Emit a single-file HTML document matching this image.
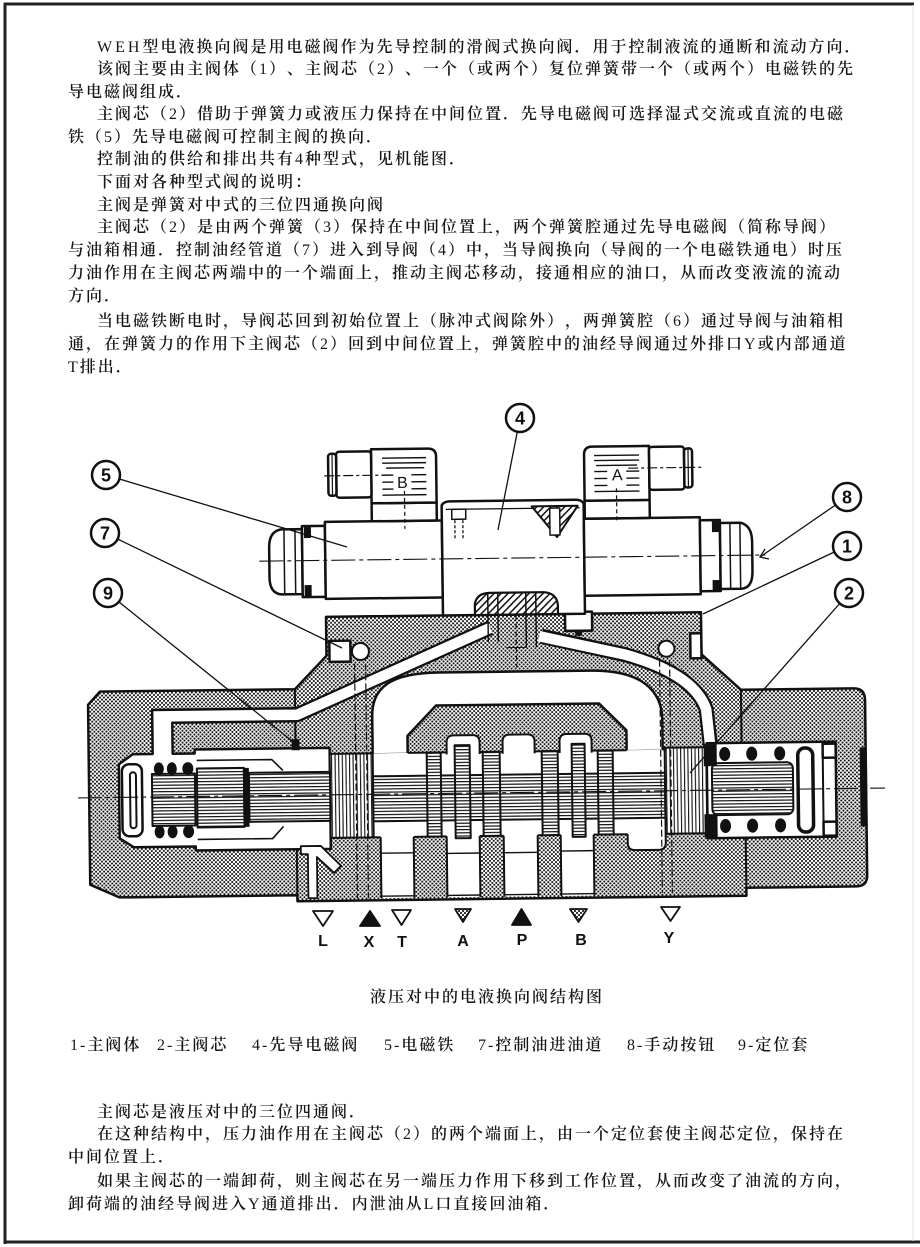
<!DOCTYPE html>
<html><head><meta charset="utf-8">
<style>
html,body{margin:0;padding:0;background:#fff}
body{width:920px;height:1247px;position:relative;overflow:hidden}
.t{position:absolute;font-family:"Liberation Serif","Noto Serif CJK SC",serif;font-size:16px;line-height:22px;letter-spacing:2px;color:#161616;white-space:nowrap;font-weight:600;text-spacing-trim:space-all}
.t b{font-weight:400}
svg{position:absolute;left:0;top:0}
</style></head><body>
<svg width="920" height="1247" viewBox="0 0 920 1247">
<defs>
 <pattern id="d" width="4" height="4" patternUnits="userSpaceOnUse">
  <rect width="4" height="4" fill="#fff"/>
  <circle cx="1" cy="1" r="1.05" fill="#111"/>
  <circle cx="3" cy="3" r="1.05" fill="#111"/>
 </pattern>
 <pattern id="hh" width="6" height="3.2" patternUnits="userSpaceOnUse">
  <rect width="6" height="3.2" fill="#fff"/>
  <rect y="0" width="6" height="1.2" fill="#111"/>
 </pattern>
 <pattern id="vh" width="3.6" height="6" patternUnits="userSpaceOnUse">
  <rect width="3.6" height="6" fill="#fff"/>
  <rect x="0" width="1.1" height="6" fill="#111"/>
 </pattern>
 <pattern id="dh" width="5" height="5" patternUnits="userSpaceOnUse" patternTransform="rotate(45)">
  <rect width="5" height="5" fill="#fff"/><rect width="1.5" height="5" fill="#111"/>
 </pattern>
</defs>

<!-- frame -->
<g fill="none" stroke="#222" stroke-width="3">
 <line x1="4" y1="4" x2="914" y2="4"/>
 <line x1="5" y1="3" x2="5" y2="1244"/>
 <line x1="4" y1="1242" x2="920" y2="1242"/>
</g>
<line x1="913" y1="5" x2="913" y2="1241" stroke="#e2e2e2" stroke-width="1"/>

<g transform="rotate(-0.7 480 780)" stroke="#111" stroke-linejoin="round">
 <!-- main body -->
 <path d="M101,687 L296,687 L328,654 L328,615 L703,615 L703,657 L742,693 L855,693 Q866,693 866,705 L866,880 Q866,891 855,891 L745,891 L745,899 L296,899 L296,893 L118,893 L89,880 L89,700 Z" fill="url(#d)" stroke-width="2.5"/>
 <line x1="296" y1="687" x2="296" y2="745" stroke-width="2"/>
 <line x1="296" y1="847" x2="296" y2="899" stroke-width="2"/>
 <line x1="742" y1="693" x2="742" y2="746" stroke-width="2"/>
 <line x1="745" y1="841" x2="745" y2="891" stroke-width="2"/>

 <!-- left cavity -->
 <path d="M153,706 L297,706 L297,719 L173,719 L173,750 L195,750 L195,746 L330,746 L330,847 L195,847 L195,843 L133,843 L119,834 L119,760 L133,750 L153,750 Z" fill="#fff" stroke-width="2.5"/>

 <!-- arch -->
 <path d="M373,753 L373,715 C373,686 392,672 440,672 L592,672 C642,672 663,692 663,722 L663,753 Z" fill="#fff" stroke-width="2.5"/>
 <!-- inner block -->
 <path d="M408,753 L408,735 L437,705 L600,705 L627,732 L627,753 Z" fill="url(#d)" stroke-width="2.5"/>

 <!-- channels -->
 <path d="M288,712.5 L298,712.5 L492,628" fill="none" stroke-width="15" stroke-linecap="butt"/>
 <path d="M286,712.5 L298,712.5 L492,628" fill="none" stroke="#fff" stroke-width="10.5" stroke-linecap="butt"/>
 <path d="M543,637 L625,656 Q695,676 707,712 L711,750" fill="none" stroke-width="15" stroke-linecap="butt"/>
 <path d="M541,637 L625,656 Q695,676 707,712 L711,752" fill="none" stroke="#fff" stroke-width="10.5" stroke-linecap="butt"/>

 <!-- bore -->
 <rect x="330" y="752" width="377" height="84" fill="#fff" stroke="none"/>
 <!-- top cavities -->
 <path d="M447,754 L447,742 Q447,735 454,735 L473,735 Q480,735 480,742 L480,754" fill="#fff" stroke-width="2"/>
 <path d="M503,754 L503,742 Q503,735 510,735 L528,735 Q535,735 535,742 L535,754" fill="#fff" stroke-width="2"/>
 <path d="M560,754 L560,742 Q560,735 567,735 L585,735 Q592,735 592,742 L592,754" fill="#fff" stroke-width="2"/>
 <!-- bottom chambers -->
 <rect x="380" y="834" width="33" height="63" fill="#fff" stroke="none"/>
 <rect x="446" y="834" width="33" height="63" fill="#fff" stroke="none"/>
 <rect x="503" y="834" width="34" height="63" fill="#fff" stroke="none"/>
 <rect x="560" y="834" width="33" height="63" fill="#fff" stroke="none"/>
 <path d="M627,834 L627,845 Q627,852 634,852 L658,852 Q665,852 665,845 L665,834 Z" fill="#fff" stroke="none"/>
 <path d="M627,836 L627,845 Q627,852 634,852 L658,852 Q665,852 665,845 L665,836" fill="none" stroke-width="2"/>
 <g stroke-width="2" fill="none">
  <line x1="408" y1="752" x2="447" y2="752"/>
  <line x1="480" y1="752" x2="503" y2="752"/>
  <line x1="535" y1="752" x2="560" y2="752"/>
  <line x1="592" y1="752" x2="627" y2="752"/>
  <line x1="663" y1="752" x2="707" y2="752"/>
  <line x1="330" y1="836" x2="380" y2="836"/>
  <line x1="413" y1="836" x2="446" y2="836"/>
  <line x1="479" y1="836" x2="503" y2="836"/>
  <line x1="537" y1="836" x2="560" y2="836"/>
  <line x1="593" y1="836" x2="627" y2="836"/>
  <line x1="665" y1="836" x2="707" y2="836"/>
  <line x1="380" y1="836" x2="380" y2="897"/>
  <line x1="413" y1="836" x2="413" y2="897"/>
  <line x1="446" y1="836" x2="446" y2="897"/>
  <line x1="479" y1="836" x2="479" y2="897"/>
  <line x1="503" y1="836" x2="503" y2="897"/>
  <line x1="537" y1="836" x2="537" y2="897"/>
  <line x1="560" y1="836" x2="560" y2="897"/>
  <line x1="593" y1="836" x2="593" y2="897"/>
 </g>
 <g stroke-width="1.4">
  <line x1="380" y1="852" x2="413" y2="852"/>
  <line x1="503" y1="853" x2="537" y2="853"/>
  <line x1="446" y1="853" x2="479" y2="853"/>
  <line x1="560" y1="852" x2="593" y2="852"/>
  <line x1="380" y1="895" x2="413" y2="895"/>
  <line x1="446" y1="895" x2="479" y2="895"/>
  <line x1="503" y1="895" x2="537" y2="895"/>
  <line x1="560" y1="895" x2="593" y2="895"/>
 </g>
 <!-- L channel detail -->
 <path d="M300,844 L320,844 L340,864 L333,871 L316,855 L316,896 L307,896 L307,852 L300,852 Z" fill="#fff" stroke-width="1.8"/>

 <!-- spool -->
 <rect x="330" y="752" width="43" height="84" fill="url(#vh)" stroke-width="2"/>
 <rect x="373" y="775" width="292" height="45" fill="url(#hh)" stroke-width="2"/>
 <rect x="427" y="752" width="14" height="84" fill="url(#hh)" stroke-width="2"/>
 <rect x="455" y="745" width="15" height="93" fill="url(#hh)" stroke-width="2"/>
 <rect x="483" y="752" width="17" height="84" fill="url(#hh)" stroke-width="2"/>
 <rect x="542" y="752" width="16" height="84" fill="url(#hh)" stroke-width="2"/>
 <rect x="572" y="745" width="13" height="93" fill="url(#hh)" stroke-width="2"/>
 <rect x="598" y="752" width="15" height="84" fill="url(#hh)" stroke-width="2"/>
 <rect x="665" y="750" width="42" height="86" fill="url(#vh)" stroke-width="2"/>

 <!-- left block internals -->
 <rect x="122" y="760" width="20" height="72" rx="7" fill="#fff" stroke-width="2.5"/>
 <rect x="130" y="768" width="6" height="56" rx="3" fill="#fff" stroke-width="2"/>
 <rect x="152" y="770" width="43" height="52" fill="url(#hh)" stroke-width="2"/>
 <g fill="#111" stroke="none">
  <ellipse cx="159" cy="765" rx="5" ry="6.5"/><ellipse cx="172" cy="765" rx="5" ry="6.5"/><ellipse cx="188" cy="765" rx="5.5" ry="6.5"/>
  <ellipse cx="159" cy="828" rx="5" ry="6.5"/><ellipse cx="172" cy="828" rx="5" ry="6.5"/><ellipse cx="188" cy="828" rx="5.5" ry="6.5"/>
 </g>
 <rect x="197" y="765" width="47" height="59" fill="url(#hh)" stroke-width="2"/>
 <rect x="243" y="765" width="6" height="59" fill="#111" stroke="none"/>
 <rect x="249" y="770" width="81" height="49" fill="url(#hh)" stroke-width="2"/>
 <path d="M197,757 L272,757 L283,768" fill="none" stroke-width="1.6"/>
 <path d="M197,836 L272,836 L283,824" fill="none" stroke-width="1.6"/>
 <rect x="292" y="737" width="8" height="11" fill="#111" stroke="none"/>

 <!-- right block internals -->
 <rect x="707" y="746" width="129" height="95" fill="#fff" stroke-width="2.5"/>
 <rect x="712" y="766" width="81" height="52" rx="6" fill="url(#hh)" stroke-width="2"/>
 <rect x="704" y="747" width="13" height="22" fill="#111" stroke="none"/>
 <rect x="704" y="817" width="13" height="23" fill="#111" stroke="none"/>
 <g fill="#111" stroke="none">
  <ellipse cx="725" cy="757" rx="5.5" ry="7"/><ellipse cx="752" cy="757" rx="5.5" ry="7"/><ellipse cx="780" cy="757" rx="5.5" ry="7"/>
  <ellipse cx="725" cy="829" rx="5.5" ry="7"/><ellipse cx="752" cy="829" rx="5.5" ry="7"/><ellipse cx="780" cy="829" rx="5.5" ry="7"/>
 </g>
 <rect x="798" y="752" width="15" height="84" rx="7" fill="#fff" stroke-width="3.5"/>
 <rect x="823" y="748" width="13" height="14" fill="#fff" stroke-width="2.5"/>
 <rect x="823" y="826" width="13" height="14" fill="#fff" stroke-width="2.5"/>
 <line x1="823" y1="762" x2="823" y2="826" stroke-width="2"/>
 <rect x="860" y="752" width="7" height="79" fill="#111" stroke="none"/>

 <!-- pilot ports/plugs in body -->
 <g stroke-width="1.4">
  <line x1="490" y1="612" x2="490" y2="642"/>
  <line x1="500" y1="612" x2="500" y2="642"/>
  <line x1="528" y1="612" x2="528" y2="648"/>
  <line x1="538" y1="612" x2="538" y2="648"/>
 </g>
 <line x1="518" y1="600" x2="518" y2="668" stroke-width="1.2" stroke-dasharray="5 3"/>
 <line x1="508" y1="648" x2="528" y2="648" stroke-width="1"/>
 <rect x="567" y="613" width="27" height="19" fill="#fff" stroke-width="2.5"/>
 <rect x="577" y="632" width="7" height="5" fill="#111" stroke="none"/>
 <rect x="331" y="639" width="21" height="21" fill="#fff" stroke-width="2.5"/>
 <circle cx="362" cy="650" r="8.5" fill="#fff" stroke-width="2"/>
 <rect x="692" y="636" width="11" height="25" fill="#fff" stroke-width="2.5"/>
 <circle cx="668" cy="651" r="8" fill="#fff" stroke-width="2"/>

 <!-- dashed lines -->
 <g stroke-width="1.2" stroke-dasharray="7 3" fill="none">
  <line x1="356" y1="662" x2="356" y2="897"/>
  <line x1="367" y1="662" x2="367" y2="897"/>
  <line x1="661" y1="662" x2="661" y2="895"/>
  <line x1="671" y1="662" x2="671" y2="895"/>
 </g>

 <!-- pilot: left solenoid -->
 <path d="M305,527 L284,527 Q272,529 272,545 L272,575 Q272,591 284,592 L305,592 Z" fill="#fff" stroke-width="2.5"/>
 <line x1="287" y1="528" x2="287" y2="591" stroke-width="1.5"/>
 <line x1="298" y1="528" x2="298" y2="591" stroke-width="1.5"/>
 <rect x="305" y="524" width="23" height="71" fill="#fff" stroke-width="2.5"/>
 <rect x="307" y="525" width="7" height="11" fill="#111" stroke="none"/>
 <rect x="307" y="583" width="7" height="11" fill="#111" stroke="none"/>
 <rect x="328" y="520" width="117" height="77" fill="#fff" stroke-width="2.5"/>
 <!-- connector B -->
 <rect x="375" y="502" width="65" height="18" fill="#fff" stroke-width="2.5"/>
 <path d="M375,502 L375,448 L432,448 Q440,448 440,456 L440,502 Z" fill="#fff" stroke-width="2.5"/>
 <rect x="340" y="450" width="35" height="46" rx="3" fill="#fff" stroke-width="2.5"/>
 <rect x="332" y="452" width="8" height="42" rx="3" fill="#fff" stroke-width="2.5"/>
 <line x1="336" y1="453" x2="336" y2="493" stroke-width="1.2"/>
 <g stroke-width="1.4">
  <line x1="386" y1="457" x2="430" y2="457"/>
  <line x1="386" y1="462" x2="430" y2="462"/>
  <line x1="390" y1="467" x2="428" y2="467"/>
  <line x1="386" y1="474" x2="397" y2="474"/><line x1="415" y1="474" x2="430" y2="474"/>
  <line x1="386" y1="481" x2="397" y2="481"/><line x1="415" y1="481" x2="430" y2="481"/>
  <line x1="386" y1="488" x2="397" y2="488"/><line x1="415" y1="488" x2="430" y2="488"/>
  <line x1="386" y1="494" x2="430" y2="494"/>
 </g>
 <line x1="408" y1="490" x2="408" y2="528" stroke-width="1.2" stroke-dasharray="4 3"/>
 <line x1="328" y1="474" x2="396" y2="474" stroke-width="1.2" stroke-dasharray="10 3 3 3"/>
 <text x="406" y="487" font-family="Liberation Sans" font-size="16" text-anchor="middle" fill="#111" stroke="none">B</text>

 <!-- pilot body -->
 <path d="M445,615 L445,505 Q447,501 453,501 L579,501 Q585,501 587,505 L587,615 Z" fill="#fff" stroke-width="2.5"/>
 <line x1="449" y1="509" x2="583" y2="509" stroke-width="1.2"/>
 <rect x="455" y="509" width="14" height="10" fill="#fff" stroke-width="1.5"/>
 <line x1="458" y1="520" x2="458" y2="538" stroke-width="1.3" stroke-dasharray="3 2"/>
 <line x1="466" y1="520" x2="466" y2="538" stroke-width="1.3" stroke-dasharray="3 2"/>
 <path d="M535,507 L581,507 L560,538 Z" fill="url(#dh)" stroke-width="2"/>
 <rect x="553" y="509" width="10" height="27" fill="#fff" stroke-width="1.5"/>
 <!-- bump over pilot body bottom -->
 <path d="M477,615 L477,604 Q479,593 492,593 L546,593 Q559,594 560,606 L560,615 Z" fill="url(#dh)" stroke-width="2.2"/>
 <line x1="490" y1="594" x2="490" y2="615" stroke-width="1.5"/>
 <line x1="500" y1="594" x2="500" y2="615" stroke-width="1.5"/>
 <line x1="528" y1="594" x2="528" y2="615" stroke-width="1.5"/>
 <line x1="538" y1="594" x2="538" y2="615" stroke-width="1.5"/>

 <!-- right solenoid -->
 <rect x="587" y="520" width="116" height="77" fill="#fff" stroke-width="2.5"/>
 <rect x="703" y="523" width="20" height="71" fill="#fff" stroke-width="2.5"/>
 <rect x="715" y="524" width="7" height="11" fill="#111" stroke="none"/>
 <rect x="715" y="583" width="7" height="11" fill="#111" stroke="none"/>
 <path d="M723,526 L744,526 Q755,529 755,545 L755,575 Q755,591 744,592 L723,592 Z" fill="#fff" stroke-width="2.5"/>
 <line x1="733" y1="527" x2="733" y2="591" stroke-width="1.5"/>
 <line x1="743" y1="527" x2="743" y2="591" stroke-width="1.5"/>
 <!-- connector A -->
 <rect x="588" y="502" width="65" height="18" fill="#fff" stroke-width="2.5"/>
 <path d="M653,502 L653,448 L596,448 Q588,448 588,456 L588,502 Z" fill="#fff" stroke-width="2.5"/>
 <rect x="653" y="449" width="35" height="43" rx="3" fill="#fff" stroke-width="2.5"/>
 <rect x="688" y="451" width="8" height="39" rx="3" fill="#fff" stroke-width="2.5"/>
 <line x1="692" y1="452" x2="692" y2="489" stroke-width="1.2"/>
 <g stroke-width="1.4">
  <line x1="598" y1="457" x2="643" y2="457"/>
  <line x1="598" y1="462" x2="643" y2="462"/>
  <line x1="600" y1="467" x2="641" y2="467"/>
  <line x1="598" y1="473" x2="611" y2="473"/><line x1="630" y1="473" x2="643" y2="473"/>
  <line x1="598" y1="480" x2="611" y2="480"/><line x1="630" y1="480" x2="643" y2="480"/>
  <line x1="598" y1="487" x2="611" y2="487"/><line x1="630" y1="487" x2="643" y2="487"/>
  <line x1="598" y1="493" x2="643" y2="493"/>
 </g>
 <line x1="620" y1="490" x2="620" y2="524" stroke-width="1.2" stroke-dasharray="4 3"/>
 <line x1="632" y1="470" x2="706" y2="470" stroke-width="1.2" stroke-dasharray="10 3 3 3"/>
 <text x="621" y="482" font-family="Liberation Sans" font-size="16" text-anchor="middle" fill="#111" stroke="none">A</text>

 <!-- centerlines -->
 <line x1="78" y1="793" x2="885" y2="793" stroke-width="1.1" stroke-dasharray="24 4 4 4"/>
 <line x1="262" y1="558.5" x2="768" y2="558.5" stroke-width="1.1" stroke-dasharray="24 4 4 4"/>
</g>

<!-- leaders -->
<g stroke="#111" fill="none" stroke-width="1.3">
 <line x1="517.3" y1="431.7" x2="498" y2="530"/>
 <line x1="119.4" y1="479" x2="347" y2="547"/>
 <line x1="835.5" y1="505" x2="760" y2="557"/>
 <path d="M765,549 L760,557 L769,559"/>
 <line x1="117.6" y1="539" x2="342" y2="648"/>
 <line x1="834.3" y1="552" x2="703" y2="614"/>
 <line x1="119" y1="602" x2="297" y2="745"/>
 <line x1="839.7" y1="603.5" x2="690" y2="773"/>
</g>
<g fill="#fff" stroke="#111" stroke-width="2.5">
 <circle cx="520" cy="418" r="14"/>
 <circle cx="106" cy="475" r="14"/>
 <circle cx="847" cy="497" r="14"/>
 <circle cx="105" cy="533" r="14"/>
 <circle cx="847" cy="546" r="14"/>
 <circle cx="108" cy="593" r="14"/>
 <circle cx="849" cy="593" r="14"/>
</g>
<g font-family="Liberation Sans" font-weight="bold" font-size="18" text-anchor="middle" fill="#111">
 <text x="520" y="424.5">4</text>
 <text x="106" y="481.5">5</text>
 <text x="847" y="503.5">8</text>
 <text x="105" y="539.5">7</text>
 <text x="847" y="552.5">1</text>
 <text x="108" y="599.5">9</text>
 <text x="849" y="599.5">2</text>
</g>

<!-- port symbols -->
<g stroke="#111" stroke-width="1.8" stroke-linejoin="round">
 <polygon points="313,911 333,911 323,926" fill="#fff"/>
 <polygon points="360,926 380,926 370,911" fill="#111"/>
 <polygon points="392,910 411,910 401.5,925" fill="#fff"/>
 <polygon points="455,909 471,909 463,922" fill="url(#d)"/>
 <polygon points="512,925 531,925 521.5,909" fill="#111"/>
 <polygon points="570,909 587,909 578.5,922" fill="url(#d)"/>
 <polygon points="661,907 680,907 670.5,921" fill="#fff"/>
</g>
<g font-family="Liberation Sans" font-weight="bold" font-size="16" text-anchor="middle" fill="#111">
 <text x="323" y="946">L</text>
 <text x="369" y="947">X</text>
 <text x="402" y="947">T</text>
 <text x="463" y="946">A</text>
 <text x="522" y="945">P</text>
 <text x="581" y="945">B</text>
 <text x="669" y="943">Y</text>
</g>
</svg>

<div class="t" style="left:97px;top:37px"><b style="letter-spacing:3px">WEH</b>型电液换向阀是用电磁阀作为先导控制的滑阀式换向阀．用于控制液流的通断和流动方向．</div>
<div class="t" style="left:97px;top:59px">该阀主要由主阀体（<b>1</b>）、主阀芯（<b>2</b>）、一个（或两个）复位弹簧带一个（或两个）电磁铁的先</div>
<div class="t" style="left:68px;top:82px">导电磁阀组成．</div>
<div class="t" style="left:97px;top:104px">主阀芯（<b>2</b>）借助于弹簧力或液压力保持在中间位置．先导电磁阀可选择湿式交流或直流的电磁</div>
<div class="t" style="left:68px;top:127px">铁（<b>5</b>）先导电磁阀可控制主阀的换向．</div>
<div class="t" style="left:97px;top:149px">控制油的供给和排出共有<b>4</b>种型式，见机能图．</div>
<div class="t" style="left:97px;top:172px">下面对各种型式阀的说明：</div>
<div class="t" style="left:97px;top:195px">主阀是弹簧对中式的三位四通换向阀</div>
<div class="t" style="left:97px;top:217px">主阀芯（<b>2</b>）是由两个弹簧（<b>3</b>）保持在中间位置上，两个弹簧腔通过先导电磁阀（简称导阀）</div>
<div class="t" style="left:68px;top:240px">与油箱相通．控制油经管道（<b>7</b>）进入到导阀（<b>4</b>）中，当导阀换向（导阀的一个电磁铁通电）时压</div>
<div class="t" style="left:68px;top:263px">力油作用在主阀芯两端中的一个端面上，推动主阀芯移动，接通相应的油口，从而改变液流的流动</div>
<div class="t" style="left:68px;top:286px">方向．</div>
<div class="t" style="left:97px;top:311px">当电磁铁断电时，导阀芯回到初始位置上（脉冲式阀除外），两弹簧腔（<b>6</b>）通过导阀与油箱相</div>
<div class="t" style="left:68px;top:334px">通，在弹簧力的作用下主阀芯（<b>2</b>）回到中间位置上，弹簧腔中的油经导阀通过外排口<b>Y</b>或内部通道</div>
<div class="t" style="left:68px;top:357px"><b>T</b>排出．</div>

<div class="t" style="left:370px;top:987px">液压对中的电液换向阀结构图</div>

<div class="t" style="left:70px;top:1035px"><b>1-</b>主阀体</div>
<div class="t" style="left:157px;top:1035px"><b>2-</b>主阀芯</div>
<div class="t" style="left:252px;top:1035px"><b>4-</b>先导电磁阀</div>
<div class="t" style="left:384px;top:1035px"><b>5-</b>电磁铁</div>
<div class="t" style="left:478px;top:1035px"><b>7-</b>控制油进油道</div>
<div class="t" style="left:627px;top:1035px"><b>8-</b>手动按钮</div>
<div class="t" style="left:738px;top:1035px"><b>9-</b>定位套</div>

<div class="t" style="left:97px;top:1102px">主阀芯是液压对中的三位四通阀．</div>
<div class="t" style="left:97px;top:1124px">在这种结构中，压力油作用在主阀芯（<b>2</b>）的两个端面上，由一个定位套使主阀芯定位，保持在</div>
<div class="t" style="left:68px;top:1147px">中间位置上．</div>
<div class="t" style="left:97px;top:1171px">如果主阀芯的一端卸荷，则主阀芯在另一端压力作用下移到工作位置，从而改变了油流的方向，</div>
<div class="t" style="left:68px;top:1194px">卸荷端的油经导阀进入<b>Y</b>通道排出．内泄油从<b>L</b>口直接回油箱．</div>
</body></html>
